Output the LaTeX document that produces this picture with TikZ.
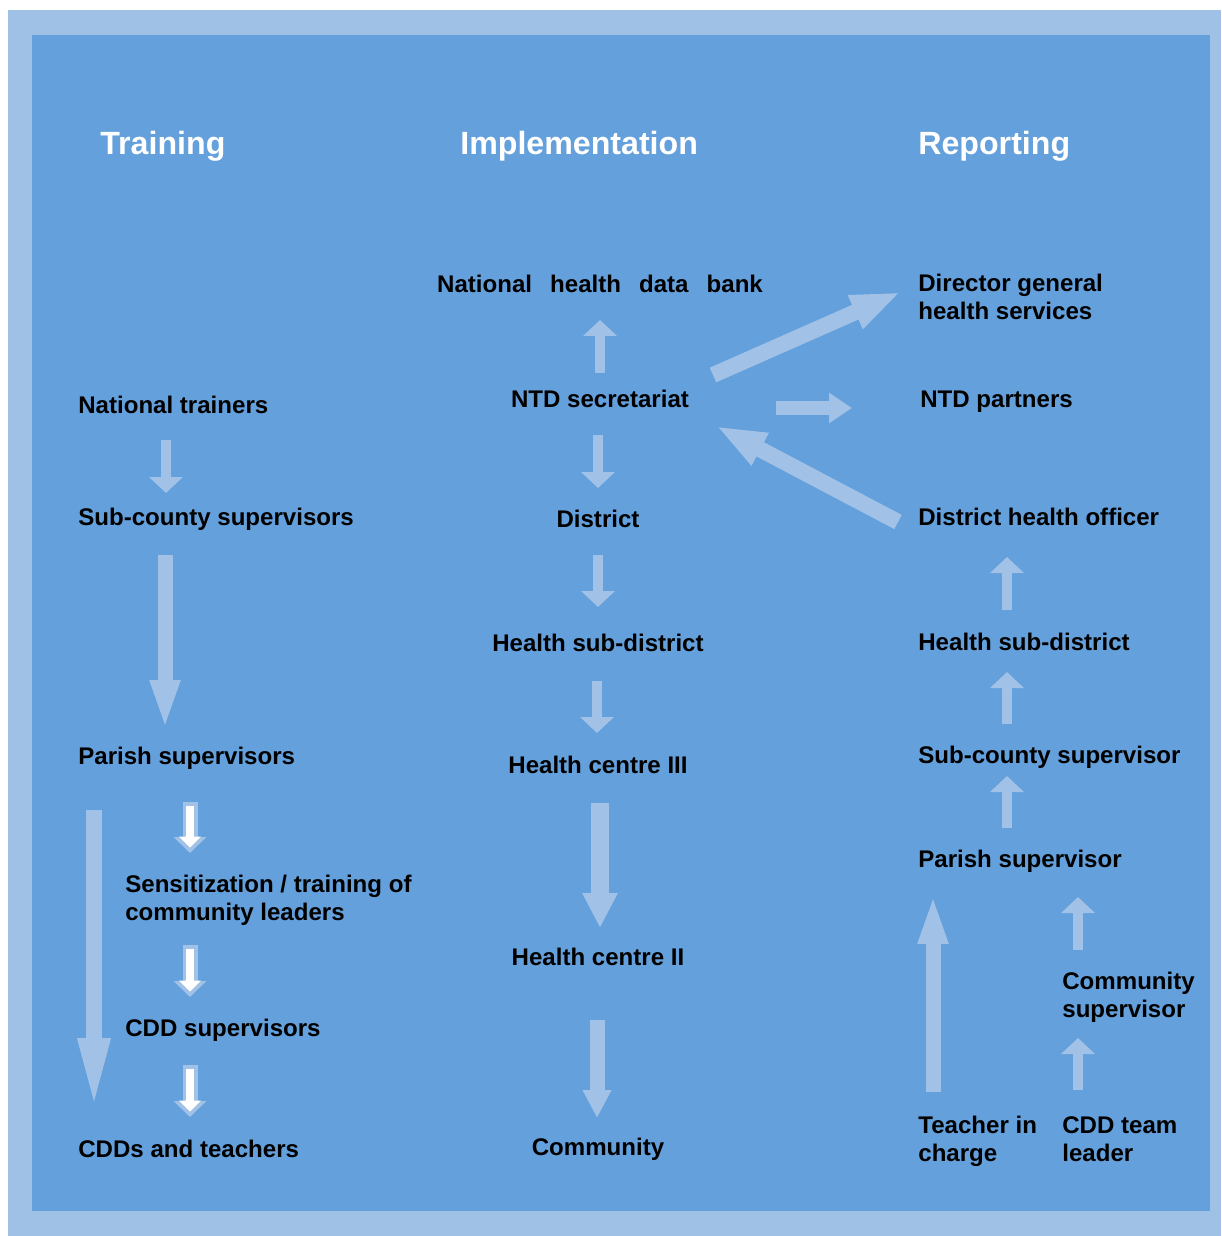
\documentclass[tikz,border=0pt]{standalone}
\usepackage{fontspec}
\setmainfont{Liberation Sans}
\usetikzlibrary{arrows.meta,positioning}
\definecolor{frame}{RGB}{160,193,230}
\definecolor{panel}{RGB}{100,160,220}
\definecolor{pale}{RGB}{161,194,230}

\begin{document}
\begin{tikzpicture}[
    x=0.02cm, y=-0.02cm,
    lbl/.style={anchor=west, inner sep=0pt, align=left,
                font=\fontsize{13.7}{16}\selectfont\bfseries},
    imp/.style={anchor=center, inner sep=0pt,
                font=\fontsize{13.7}{16}\selectfont\bfseries},
    colhead/.style={anchor=west, inner sep=0pt, text=white,
                font=\fontsize{18.3}{22}\selectfont\bfseries},
    short/.style={draw=pale, line width=0.19cm,
                  -{Triangle[length=0.32cm, width=0.66cm]}},
    long/.style={draw=pale, line width=0.3cm,
                 -{Triangle[length=1cm, width=0.54cm]}},
    longer/.style={draw=pale, line width=0.32cm,
                   -{Triangle[length=1.56cm, width=0.56cm]}},
    mid/.style={draw=pale, line width=0.36cm,
                -{Triangle[length=0.7cm, width=0.66cm]}},
    midthin/.style={draw=pale, line width=0.3cm,
                -{Triangle[length=0.56cm, width=0.54cm]}},
    slant/.style={draw=pale, line width=0.32cm,
                  -{Triangle[length=1cm, width=0.66cm]}},
    side/.style={draw=pale, line width=0.28cm,
                 -{Triangle[length=0.46cm, width=0.58cm]}},
    hollow/.style={draw=pale, line width=0.3cm,
                   -{Triangle[length=0.32cm, width=0.64cm]}},
    hollowin/.style={draw=white, line width=0.16cm,
                     -{Triangle[length=0.22cm, width=0.42cm]}},
  ]
    %% ── Frame ────────────────────────────────────────────────
    \useasboundingbox (0,0) rectangle (1221,1236);
    \fill[frame] (8,10) rectangle (1221,1236);
    \fill[panel] (32,35) rectangle (1210,1211);

    %% ── Column heads ─────────────────────────────────────────
    \node[colhead] (hTrain) at (100,146) {Training};
    \node[colhead] (hImpl)  at (460,146) {Implementation};
    \node[colhead] (hRep)   at (918,146) {Reporting};

    %% ── Training ─────────────────────────────────────────────
    \node[lbl] (natTr)  at (78,405)  {National trainers};
    \node[lbl] (subTr)  at (78,519)  {Sub-county supervisors};
    \node[lbl] (parTr)  at (78,758)  {Parish supervisors};
    \node[lbl] (sensTr) at (125,900) {Sensitization / training of\\community leaders};
    \node[lbl] (cddSup) at (125,1030) {CDD supervisors};
    \node[lbl] (cddTch) at (78,1149) {CDDs and teachers};

    %% ── Implementation ───────────────────────────────────────
    \node[imp] (bank)  at (600,284) {National\hspace{0.75em}health\hspace{0.75em}data\hspace{0.75em}bank};
    \node[imp] (ntd)   at (600,399) {NTD secretariat};
    \node[imp] (dist)  at (598,519) {District};
    \node[imp] (hsd)   at (598,643) {Health sub-district};
    \node[imp] (hc3)   at (598,765) {Health centre III};
    \node[imp] (hc2)   at (598,957) {Health centre II};
    \node[imp] (comm)  at (598,1149) {Community};

    %% ── Reporting ────────────────────────────────────────────
    \node[lbl] (dg)    at (918,297)  {Director general\\health services};
    \node[lbl] (part)  at (920,402)  {NTD partners};
    \node[lbl] (dho)   at (918,517)  {District health officer};
    \node[lbl] (rHsd)  at (918,642)  {Health sub-district};
    \node[lbl] (rSub)  at (918,757)  {Sub-county supervisor};
    \node[lbl] (rPar)  at (918,861)  {Parish supervisor};
    \node[lbl] (cSup)  at (1062,997) {Community\\supervisor};
    \node[lbl] (teach) at (918,1141) {Teacher in\\charge};
    \node[lbl] (cddL)  at (1062,1139) {CDD team\\leader};

    %% ── Arrow ends ───────────────────────────────────────────
    \coordinate (t1a) at (166,440);  \coordinate (t1b) at (166,493);
    \coordinate (t2a) at (165,555);  \coordinate (t2b) at (165,730);
    \coordinate (t3a) at (94,810);   \coordinate (t3b) at (94,1116);
    \coordinate (w1a) at (190,802);  \coordinate (w1b) at (190,853);
    \coordinate (w2a) at (190,945);  \coordinate (w2b) at (190,997);
    \coordinate (w3a) at (190,1065); \coordinate (w3b) at (190,1117);

    \coordinate (i1a) at (600,373);  \coordinate (i1b) at (600,320);
    \coordinate (i2a) at (598,435);  \coordinate (i2b) at (598,488);
    \coordinate (i3a) at (598,555);  \coordinate (i3b) at (598,607);
    \coordinate (i4a) at (597,681);  \coordinate (i4b) at (597,733);
    \coordinate (i5a) at (600,803);  \coordinate (i5b) at (600,928);
    \coordinate (i6a) at (597,1020); \coordinate (i6b) at (597,1118);

    \coordinate (r1a) at (1007,610); \coordinate (r1b) at (1007,557);
    \coordinate (r2a) at (1007,724); \coordinate (r2b) at (1007,672);
    \coordinate (r3a) at (1007,828); \coordinate (r3b) at (1007,776);
    \coordinate (r4a) at (933,1092); \coordinate (r4b) at (933,894);
    \coordinate (r5a) at (1078,950); \coordinate (r5b) at (1078,897);
    \coordinate (r6a) at (1078,1090);\coordinate (r6b) at (1078,1038);

    \coordinate (d1a) at (713,375);  \coordinate (d1b) at (901,292);
    \coordinate (d2a) at (776,408);  \coordinate (d2b) at (852,408);
    \coordinate (d3a) at (898,522);  \coordinate (d3b) at (716,426);

    %% ── Arrows: training ─────────────────────────────────────
    \draw[short]  (t1a) -- (t1b);
    \draw[long]   (t2a) -- (t2b);
    \draw[longer] (t3a) -- (t3b);
    \foreach \w in {w1,w2,w3} {
      \draw[hollow]   (\w a) -- (\w b);
      \draw[hollowin, shorten <=2pt, shorten >=3pt] (\w a) -- (\w b);
    }

    %% ── Arrows: implementation ───────────────────────────────
    \draw[short]   (i1a) -- (i1b);
    \draw[short]   (i2a) -- (i2b);
    \draw[short]   (i3a) -- (i3b);
    \draw[short]   (i4a) -- (i4b);
    \draw[mid]     (i5a) -- (i5b);
    \draw[midthin] (i6a) -- (i6b);

    %% ── Arrows: reporting ────────────────────────────────────
    \draw[short] (r1a) -- (r1b);
    \draw[short] (r2a) -- (r2b);
    \draw[short] (r3a) -- (r3b);
    \draw[long]  (r4a) -- (r4b);
    \draw[short] (r5a) -- (r5b);
    \draw[short] (r6a) -- (r6b);

    %% ── Arrows: across ───────────────────────────────────────
    \draw[slant] (d1a) -- (d1b);
    \draw[side]  (d2a) -- (d2b);
    \draw[slant] (d3a) -- (d3b);

  \end{tikzpicture}
\end{document}
